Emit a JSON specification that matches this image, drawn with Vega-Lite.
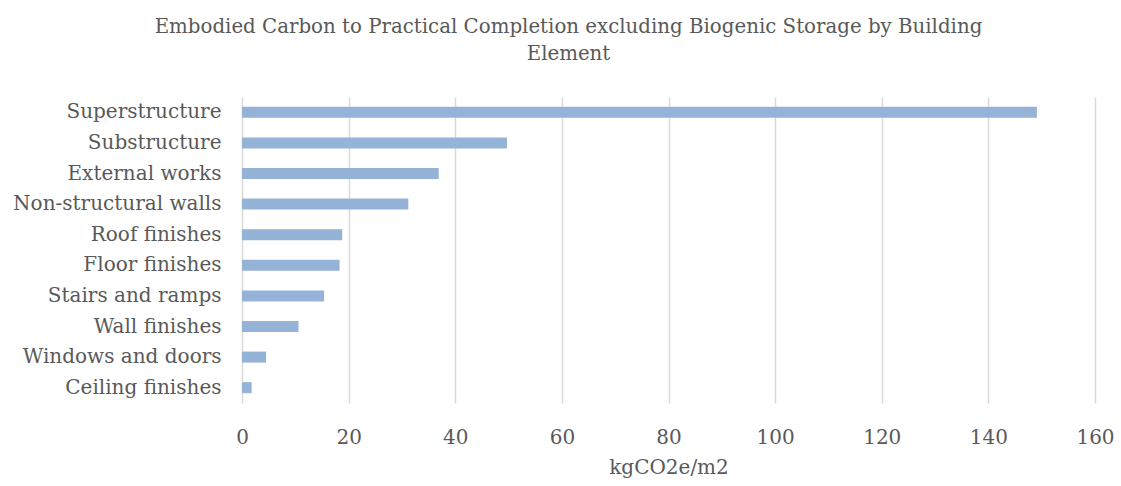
{
  "$schema": "https://vega.github.io/schema/vega-lite/v6.json",
  "autosize": "none",
  "width": 853,
  "height": 306,
  "padding": {"left": 242, "top": 97, "right": 26, "bottom": 83},
  "background": "white",
  "title": {
    "text": ["Embodied Carbon to Practical Completion excluding Biogenic Storage by Building", "Element"],
    "anchor": "middle",
    "frame": "group",
    "dx": -100,
    "offset": 33,
    "font": "DejaVu Serif",
    "fontSize": 19.8,
    "fontWeight": "normal",
    "color": "#595959",
    "lineHeight": 27
  },
  "data": {
    "values": [
      {"element": "Superstructure", "carbon": 149.1},
      {"element": "Substructure", "carbon": 49.7},
      {"element": "External works", "carbon": 36.9},
      {"element": "Non-structural walls", "carbon": 31.2},
      {"element": "Roof finishes", "carbon": 18.8},
      {"element": "Floor finishes", "carbon": 18.3},
      {"element": "Stairs and ramps", "carbon": 15.4},
      {"element": "Wall finishes", "carbon": 10.6},
      {"element": "Windows and doors", "carbon": 4.5},
      {"element": "Ceiling finishes", "carbon": 1.8}
    ]
  },
  "mark": {"type": "bar", "color": "#95B3D7"},
  "encoding": {
    "y": {
      "field": "element",
      "type": "nominal",
      "sort": null,
      "scale": {"paddingInner": 0.64, "paddingOuter": 0.32},
      "axis": {
        "title": null,
        "ticks": false,
        "domain": false,
        "grid": false,
        "labelPadding": 21,
        "labelFont": "DejaVu Serif",
        "labelFontSize": 20,
        "labelColor": "#595959",
        "labelLimit": 400
      }
    },
    "x": {
      "field": "carbon",
      "type": "quantitative",
      "scale": {"domain": [0, 160], "nice": false},
      "axis": {
        "title": "kgCO2e/m2",
        "values": [0, 20, 40, 60, 80, 100, 120, 140, 160],
        "ticks": false,
        "domain": false,
        "grid": true,
        "gridColor": "#D9D9D9",
        "gridWidth": 1.5,
        "labelFlush": false,
        "labelPadding": 24,
        "labelFont": "DejaVu Serif",
        "labelFontSize": 20,
        "labelColor": "#595959",
        "titleFont": "DejaVu Serif",
        "titleFontSize": 20,
        "titleFontWeight": "normal",
        "titleColor": "#595959",
        "titlePadding": 10
      }
    }
  },
  "config": {"view": {"stroke": null}}
}
